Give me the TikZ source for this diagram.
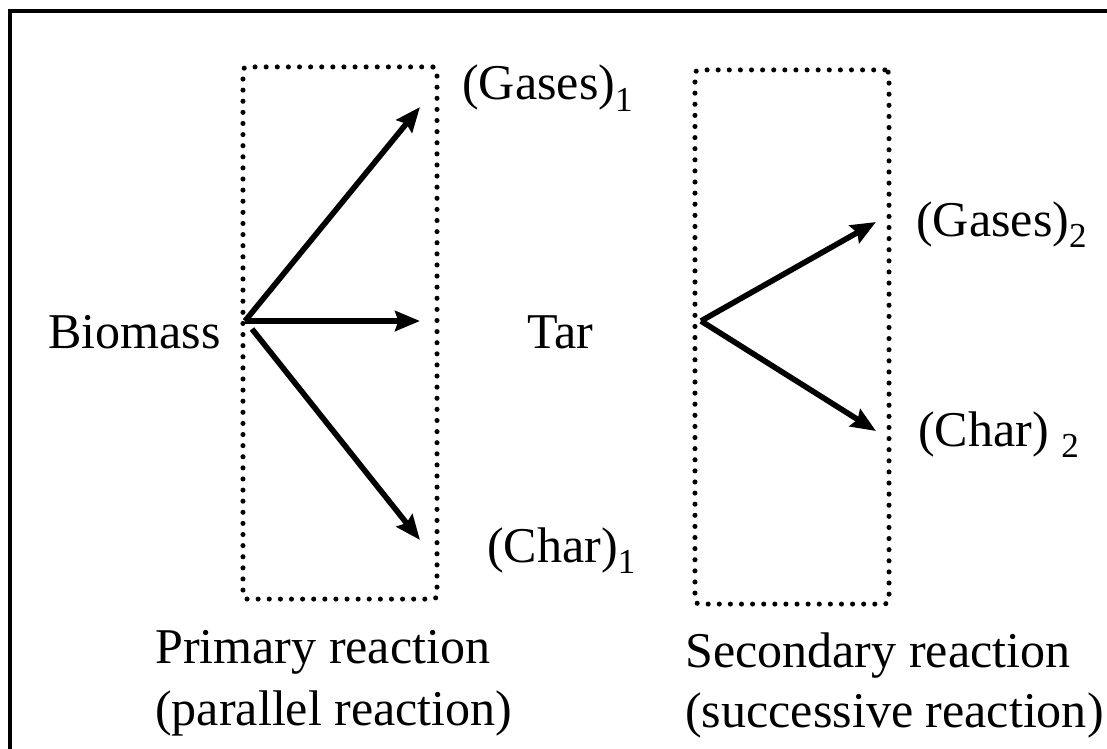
\documentclass[tikz,border=0pt]{standalone}
\usepackage{fontspec}
\setmainfont{Liberation Serif}
\usepackage{tikz}
\usetikzlibrary{arrows.meta, positioning}

\newcommand{\rxnfont}{\fontsize{35.6pt}{42pt}\selectfont}

\begin{document}
\begin{tikzpicture}[x=0.025cm, y=-0.025cm,
    lbl/.style={anchor=base west, inner sep=0pt, font=\rxnfont},
    dotbox/.style={draw, line width=3.6pt, line cap=round, dash pattern=on 0pt off 7.9pt, rounded corners=3pt, minimum width=4.85cm, inner sep=0pt},
    rxn/.style={line width=4pt, -{Stealth[length=0.62cm, width=0.5cm, inset=0.08cm]}}]
    \useasboundingbox (0,0) rectangle (1107,749);
    % frame
    \draw [line width=2.6pt] (1107,11) -- (10,11) -- (10,749);

    % Dotted boxes
    \node (PrimBox) [dotbox, minimum height=13.3cm] at (340,333) {};
    \node (SecBox) [dotbox, minimum height=13.35cm] at (792,337) {};

    % Species
    \node (Biomass) [lbl] at (48,348) {Biomass};
    \node (Tar) [lbl] at (527,348) {Tar};
    \node (Gases1) [lbl] at (462,100) {(Gases)\textsubscript{1}};
    \node (Char1) [lbl] at (487,562) {(Char)\textsubscript{1}};
    \node (Gases2) [lbl] at (916,236) {(Gases)\textsubscript{2}};
    \node (Char2) [lbl] at (918,446) {(Char) \textsubscript{2}};

    % Captions
    \node (Prim) [lbl] at (155,663) {Primary reaction};
    \node (PrimSub) [lbl] at (155,725) {(parallel reaction)};
    \node (Sec) [lbl] at (685,667) {Secondary reaction};
    \node (SecSub) [lbl] at (685,727) {(successive reaction)};

    % Arrow ends
    \coordinate (BioOut) at (245,321);
    \coordinate (TarOut) at (701,321);
    \coordinate (G1In) at (420,107);
    \coordinate (TarIn) at (420,321);
    \coordinate (C1In) at (420,540);
    \coordinate (G2In) at (876,222);
    \coordinate (C2In) at (876,431);

    \draw [rxn] (BioOut) -- (G1In);
    \draw [rxn] (BioOut) -- (TarIn);
    \draw [rxn] ([shift={(7,8)}]BioOut) -- (C1In);
    \draw [rxn] (TarOut) -- (G2In);
    \draw [rxn] (TarOut) -- (C2In);
\end{tikzpicture}
\end{document}
